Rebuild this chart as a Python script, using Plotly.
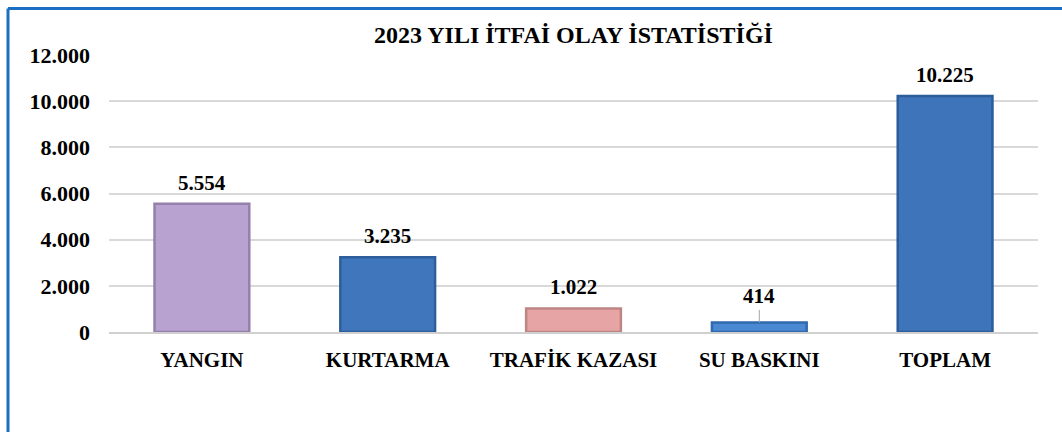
import plotly.graph_objects as go

# 2023 fire department incident statistics
categories = ["YANGIN", "KURTARMA", "TRAFİK KAZASI", "SU BASKINI", "TOPLAM"]
counts = [5554, 3235, 1022, 414, 10225]
bar_colors = ["#b8a3d0", "#3f76bc", "#e6a4a4", "#4a88d2", "#3e74ba"]
edge_colors = ["#9580ad", "#2d5e9b", "#be8585", "#3069ad", "#2c5c9a"]
y_tick_vals = [0, 2000, 4000, 6000, 8000, 10000, 12000]
y_tick_text = ["0", "2.000", "4.000", "6.000", "8.000", "10.000", "12.000"]


def fmt(v):
    return f"{v:,}".replace(",", ".")


FONT = "Liberation Serif, Times New Roman, serif"

fig = go.Figure()
fig.add_trace(go.Bar(
    x=categories,
    y=counts,
    marker=dict(color=bar_colors, line=dict(color=edge_colors, width=2.5)),
    width=0.51,
    hoverinfo="x+y",
))

annotations = []
for cat, val in zip(categories, counts):
    if val < 800:
        annotations.append(dict(
            x=cat, y=val, xref="x", yref="y", text=f"<b>{fmt(val)}</b>",
            showarrow=True, arrowhead=0, arrowwidth=1, arrowcolor="#a6a6a6",
            ax=0, ay=-26, standoff=0,
            font=dict(family=FONT, size=21, color="#000000"),
        ))
    else:
        annotations.append(dict(
            x=cat, y=val, xref="x", yref="y", text=f"<b>{fmt(val)}</b>",
            showarrow=False, yanchor="bottom", yshift=7,
            font=dict(family=FONT, size=21, color="#000000"),
        ))

# outer frame (top and left edges)
frame_x = (8 - 109) / 929
frame_y = (332 - 8.5) / 277
shapes = [
    dict(type="line", xref="paper", yref="paper", x0=frame_x, x1=frame_x,
         y0=-0.5, y1=frame_y, line=dict(color="#1b6fc2", width=3)),
    dict(type="line", xref="paper", yref="paper", x0=frame_x, x1=1.2,
         y0=frame_y, y1=frame_y, line=dict(color="#1b6fc2", width=3)),
]

fig.update_layout(
    width=1062, height=432,
    margin=dict(l=109, r=24, t=55, b=100),
    paper_bgcolor="white", plot_bgcolor="white",
    showlegend=False,
    bargap=0.49,
    title=dict(
        text="<b>2023 YILI İTFAİ OLAY İSTATİSTİĞİ</b>",
        x=0.5, xref="paper", xanchor="center",
        y=1 - 35 / 432, yref="container", yanchor="middle",
        font=dict(family=FONT, size=24, color="#000000"),
    ),
    xaxis=dict(
        showgrid=False, showline=True, linecolor="#d0d0d0", linewidth=2,
        tickfont=dict(family=FONT, size=21, color="#000000"),
        tickprefix="<b>", ticksuffix="</b>",
        ticklabelstandoff=8,
    ),
    yaxis=dict(
        range=[0, 12000],
        tickvals=y_tick_vals, ticktext=[f"<b>{t}</b>" for t in y_tick_text],
        showgrid=True, gridcolor="#d9d9d9", gridwidth=1.5,
        zeroline=False, showline=False,
        tickfont=dict(family=FONT, size=22, color="#000000"),
        ticklabelstandoff=18,
    ),
    annotations=annotations,
    shapes=shapes,
)

fig.write_html("out.html")
